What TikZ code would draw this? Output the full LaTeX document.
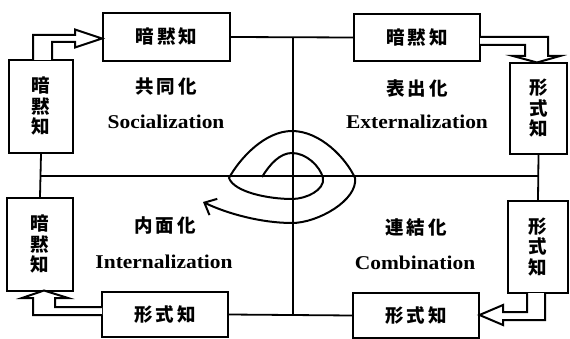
\documentclass[tikz,border=0pt]{standalone}
\usepackage{fontspec}
\setmainfont{Liberation Serif}
\newfontfamily\latinf[FakeStretch=1.1]{Liberation Serif}
\newfontfamily\cjk{Noto Sans CJK JP}
\usetikzlibrary{arrows.meta}
\newcommand\jword[3]{#1\hspace{3pt}#2\hspace{3pt}#3}
\begin{document}
\begin{tikzpicture}[x=1pt,y=-1pt,
  kbox/.style={draw, line width=2.2pt, fill=white, inner sep=0pt, font=\cjk\bfseries\fontsize{18.5}{20.5}\selectfont, align=center},
  frame/.style={line width=1.8pt},
  hollow/.style={line width=2pt, fill=white, line join=miter},
  jlabel/.style={font=\cjk\bfseries\fontsize{18.5}{20}\selectfont, inner sep=0pt},
  elabel/.style={font=\latinf\bfseries\fontsize{19.5}{22}\selectfont, inner sep=0pt}]
\useasboundingbox (0,0) rectangle (570,339);
% frame coordinates
\coordinate (ct) at (293,37);
\coordinate (cb) at (293,315);
\coordinate (ml) at (41,176);
\coordinate (mr) at (539,176);
% boxes
\node[kbox, minimum width=127pt, minimum height=48pt] (tlh) at (166.5,37) {\jword{暗}{黙}{知}};
\node[kbox, minimum width=64pt, minimum height=93pt] (tlv) at (41,106.5) {暗\\黙\\知};
\node[kbox, minimum width=126pt, minimum height=47pt] (trh) at (417,37.5) {\jword{暗}{黙}{知}};
\node[kbox, minimum width=57pt, minimum height=91pt] (trv) at (538.5,108.5) {形\\式\\知};
\node[kbox, minimum width=66pt, minimum height=93pt] (blv) at (40,244.5) {暗\\黙\\知};
\node[kbox, minimum width=126pt, minimum height=45pt] (blh) at (165,314.5) {\jword{形}{式}{知}};
\node[kbox, minimum width=60pt, minimum height=92pt] (brv) at (538,247) {形\\式\\知};
\node[kbox, minimum width=126pt, minimum height=45pt] (brh) at (416,315.5) {\jword{形}{式}{知}};
% frame lines
\draw[frame] (tlh.east) -- (trh.west);
\draw[frame] (blh.east) -- (brh.west);
\draw[frame] (ct) -- (cb);
\draw[frame] (ml) -- (mr);
\draw[frame] (tlv.south) -- (blv.north);
\draw[frame] (trv.south) -- (brv.north);
% hollow arrows
\draw[hollow] (33,60) -- (33,35) -- (75,35) -- (75,29.5) -- (102,38.5) -- (75,47.5) -- (75,42) -- (52,42) -- (52,60);
\draw[hollow] (480,37) -- (548,37) -- (548,56) -- (560,56) -- (537,62.5) -- (513,56) -- (525,56) -- (525,45) -- (480,45);
\draw[hollow] (102,315) -- (33,315) -- (33,298) -- (22,298) -- (44,290.5) -- (68,298) -- (55,298) -- (55,307) -- (102,307);
\draw[hollow] (527,293) -- (527,312) -- (503,312) -- (503,305) -- (479.5,315) -- (503,325) -- (503,320) -- (545,320) -- (545,293);
% spiral
\draw[line width=2pt, -{Straight Barb[length=10pt,width=18pt,line width=2pt]}]
  (262,177) .. controls (270,164) and (280,153) .. (292,153)
  .. controls (306,153) and (320,166) .. (323,178)
  .. controls (325,190) and (306,199) .. (292,199)
  .. controls (268,199) and (234,192) .. (229,178)
  .. controls (240,158) and (265,131) .. (292,131)
  .. controls (320,131) and (346,158) .. (355,178)
  .. controls (358,200) and (318,223) .. (292,223)
  .. controls (262,223) and (228,214) .. (203,202);
% labels
\node[jlabel] (soj) at (166,87) {\jword{共}{同}{化}};
\node[elabel] (soe) at (166,122) {Socialization};
\node[jlabel] (exj) at (417,88) {\jword{表}{出}{化}};
\node[elabel] (exe) at (417,122) {Externalization};
\node[jlabel] (inj) at (165,225) {\jword{内}{面}{化}};
\node[elabel] (ine) at (164,262) {Internalization};
\node[jlabel] (coj) at (416,227) {\jword{連}{結}{化}};
\node[elabel] (coe) at (415,263) {Combination};
\end{tikzpicture}
\end{document}
